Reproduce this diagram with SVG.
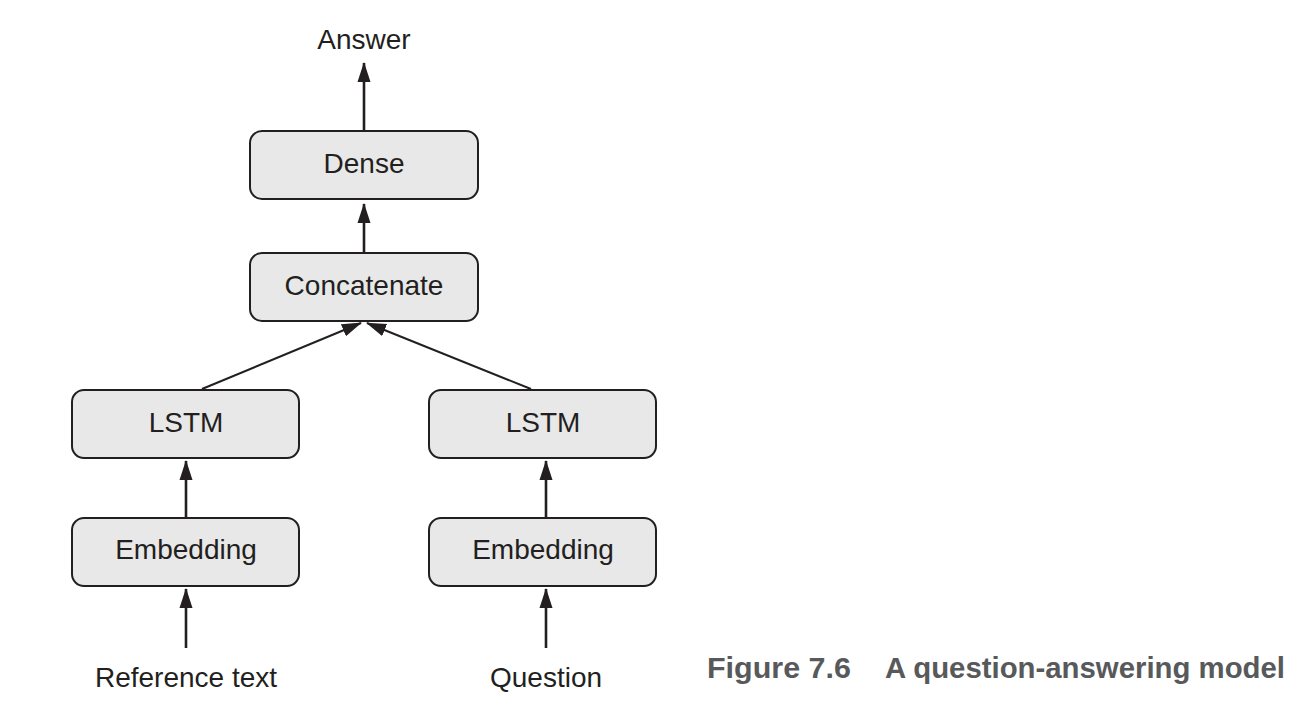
<svg xmlns="http://www.w3.org/2000/svg" width="1315" height="720" viewBox="0 0 1315 720">
<style>
.box{fill:#e8e8e8;stroke:#231f20;stroke-width:2}
.lbl{font-family:"Liberation Sans",Arial,sans-serif;font-size:28px;fill:#231f20;text-anchor:middle}
.con{stroke:#231f20;stroke-width:2.6;fill:none}
.dg{stroke:#231f20;stroke-width:2;fill:none}
.cap{font-family:"Liberation Sans",Arial,sans-serif;font-size:30px;font-weight:bold;fill:#58595b}
</style>
<defs>
<marker id="ah" markerUnits="userSpaceOnUse" markerWidth="20" markerHeight="14" refX="19" refY="6.5" orient="auto" viewBox="0 0 20 13">
<path d="M0,0 L20,6.5 L0,13 z" fill="#231f20"/>
</marker>
</defs>
<rect width="1315" height="720" fill="#ffffff"/>
<g id="connectors">
<line class="con" x1="364" y1="131" x2="364" y2="63" marker-end="url(#ah)"/>
<line class="con" x1="364" y1="253" x2="364" y2="204" marker-end="url(#ah)"/>
<line class="dg" x1="202" y1="389" x2="361" y2="323" marker-end="url(#ah)"/>
<line class="dg" x1="531" y1="389" x2="367" y2="323" marker-end="url(#ah)"/>
<line class="con" x1="186" y1="517" x2="186" y2="461" marker-end="url(#ah)"/>
<line class="con" x1="546" y1="517" x2="546" y2="461" marker-end="url(#ah)"/>
<line class="con" x1="186" y1="648" x2="186" y2="589" marker-end="url(#ah)"/>
<line class="con" x1="546" y1="648" x2="546" y2="589" marker-end="url(#ah)"/>
</g>
<g id="answer"><text class="lbl" x="364" y="49">Answer</text></g>
<g id="dense"><rect class="box" x="250" y="131" width="228" height="68" rx="12"/><text class="lbl" x="364" y="173">Dense</text></g>
<g id="concatenate"><rect class="box" x="250" y="253" width="228" height="68" rx="12"/><text class="lbl" x="364" y="295">Concatenate</text></g>
<g id="lstm-left"><rect class="box" x="72" y="390" width="227" height="68" rx="12"/><text class="lbl" x="186" y="432">LSTM</text></g>
<g id="lstm-right"><rect class="box" x="429" y="390" width="227" height="68" rx="12"/><text class="lbl" x="543" y="432">LSTM</text></g>
<g id="embedding-left"><rect class="box" x="72" y="518" width="227" height="68" rx="12"/><text class="lbl" x="186" y="559">Embedding</text></g>
<g id="embedding-right"><rect class="box" x="429" y="518" width="227" height="68" rx="12"/><text class="lbl" x="543" y="559">Embedding</text></g>
<g id="reference-text"><text class="lbl" x="186" y="687">Reference text</text></g>
<g id="question"><text class="lbl" x="546" y="687">Question</text></g>
<g id="caption">
<text class="cap" x="707" y="678" textLength="144" lengthAdjust="spacingAndGlyphs">Figure 7.6</text>
<text class="cap" x="885" y="678" textLength="400" lengthAdjust="spacingAndGlyphs">A question-answering model</text>
</g>
</svg>
